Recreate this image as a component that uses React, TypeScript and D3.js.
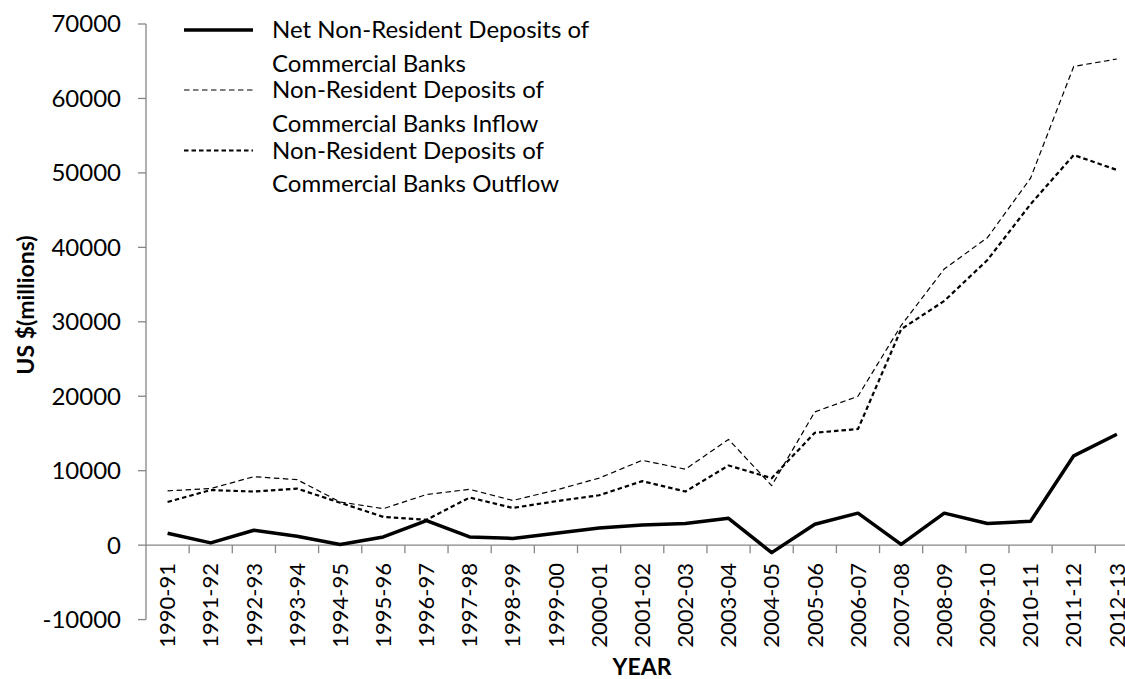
import React from "react";
import * as d3 from "d3";

const years = ["1990-91","1991-92","1992-93","1993-94","1994-95","1995-96","1996-97","1997-98","1998-99","1999-00","2000-01","2001-02","2002-03","2003-04","2004-05","2005-06","2006-07","2007-08","2008-09","2009-10","2010-11","2011-12","2012-13"];
const netDeposits = [1600,300,2000,1200,100,1100,3300,1100,900,1600,2300,2700,2900,3600,-1000,2800,4300,100,4300,2900,3200,12000,14900];
const inflow = [7300,7600,9200,8800,5800,4900,6800,7500,6000,7400,9000,11400,10200,14200,8000,17900,20000,29500,37100,41300,49300,64300,65300];
const outflow = [5800,7400,7200,7600,5700,3800,3400,6400,5000,5900,6700,8600,7200,10700,9000,15100,15600,29000,32800,38300,45800,52400,50400];
const yTicks = [-10000,0,10000,20000,30000,40000,50000,60000,70000];
const legendEntries = [
  ["Net Non-Resident Deposits of", "Commercial Banks"],
  ["Non-Resident Deposits of", "Commercial Banks Inflow"],
  ["Non-Resident Deposits of", "Commercial Banks Outflow"],
];

const W = 1125, H = 679;
const FONT = "Lato, 'Open Sans', sans-serif";
const AXIS = "#868686";

export default function App() {
  const left = 146, band = 43.15;
  const x = d3.scaleBand<string>().domain(years).range([left, left + band * years.length]).paddingInner(0).paddingOuter(0);
  const y = d3.scaleLinear().domain([-10000, 70000]).range([619.6, 24]);
  const cx = (c: string) => (x(c) as number) + x.bandwidth() / 2;
  const line = d3.line<number>().x((_, i) => cx(years[i])).y((v) => y(v));

  const styles = [
    { stroke: "#000", width: 3.5, dash: "" },
    { stroke: "#000", width: 1.2, dash: "5.5,3.5" },
    { stroke: "#000", width: 2.2, dash: "4.5,3" },
  ];
  const series = [netDeposits, inflow, outflow];
  const legendY = [30, 90, 150.5];

  return (
    <svg width={W} height={H} style={{ position: "absolute", left: 0, top: 0, background: "#fff" }} fontFamily={FONT}>
      <line x1={left} x2={left} y1={y(70000)} y2={y(-10000)} stroke={AXIS} strokeWidth={1.3} />
      {yTicks.map((t) => (
        <g key={t}>
          <line x1={left - 8} x2={left} y1={y(t)} y2={y(t)} stroke={AXIS} strokeWidth={1.3} />
          <text x={121} y={y(t)} dy="0.35em" textAnchor="end" fontSize={24} fill="#000">{t}</text>
        </g>
      ))}
      <line x1={left} x2={left + band * years.length} y1={y(0)} y2={y(0)} stroke={AXIS} strokeWidth={1.3} />
      {years.map((c) => (
        <line key={"t" + c} x1={(x(c) as number) + band} x2={(x(c) as number) + band} y1={y(0)} y2={y(0) + 8} stroke={AXIS} strokeWidth={1.3} />
      ))}
      {years.map((c) => (
        <text key={"l" + c} transform={`translate(${cx(c)},563) rotate(-90)`} dy="0.35em" textAnchor="end" fontSize={22} fill="#000">{c}</text>
      ))}
      {series.map((s, k) => (
        <path key={k} d={line(s) || ""} fill="none" stroke={styles[k].stroke} strokeWidth={styles[k].width} strokeDasharray={styles[k].dash} strokeLinejoin="round" />
      ))}
      {legendEntries.map((e, k) => (
        <g key={"lg" + k}>
          <line x1={184} x2={253} y1={legendY[k]} y2={legendY[k]} stroke="#000" strokeWidth={styles[k].width} strokeDasharray={styles[k].dash} />
          <text x={272} y={legendY[k]} dy="0.35em" fontSize={24} fill="#000">{e[0]}</text>
          <text x={272} y={legendY[k] + 33.5} dy="0.35em" fontSize={24} fill="#000">{e[1]}</text>
        </g>
      ))}
      <text transform={`translate(26,305) rotate(-90)`} dy="0.35em" textAnchor="middle" fontSize={23} fontWeight="bold" fill="#000">US $(millions)</text>
      <text x={642} y={675} textAnchor="middle" fontSize={23} fontWeight="bold" fill="#000">YEAR</text>
    </svg>
  );
}
